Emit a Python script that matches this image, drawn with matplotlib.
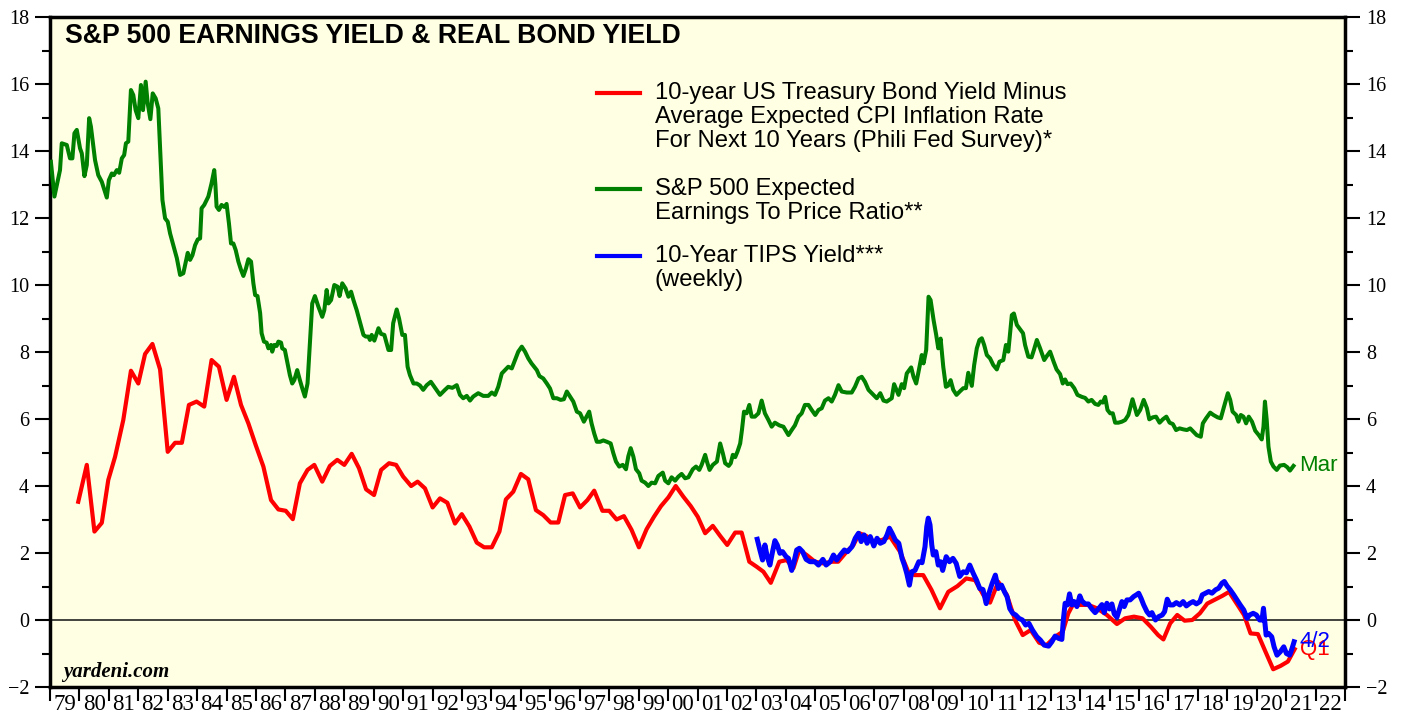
import matplotlib
matplotlib.use("Agg")
import matplotlib.pyplot as plt
from matplotlib.lines import Line2D

# S&P 500 expected earnings-to-price ratio (monthly), (year, value)
green_pts = [
    (1979.03, 13.68), (1979.15, 12.64), (1979.34, 13.43), (1979.40, 14.23), (1979.57, 14.18),
    (1979.68, 13.78), (1979.76, 13.78), (1979.83, 14.53), (1979.91, 14.63), (1980.02, 14.08),
    (1980.08, 13.93), (1980.17, 13.25), (1980.25, 13.58), (1980.33, 14.98), (1980.39, 14.73),
    (1980.53, 13.73), (1980.64, 13.28), (1980.76, 13.08), (1980.93, 12.61), (1981.00, 13.13),
    (1981.10, 13.33), (1981.17, 13.28), (1981.27, 13.43), (1981.35, 13.35), (1981.44, 13.78),
    (1981.52, 13.88), (1981.58, 14.23), (1981.66, 14.28), (1981.75, 15.82), (1981.83, 15.67),
    (1981.91, 15.22), (1982.00, 14.98), (1982.09, 15.97), (1982.16, 15.22), (1982.25, 16.07),
    (1982.32, 15.42), (1982.41, 14.95), (1982.49, 15.72), (1982.59, 15.57), (1982.68, 15.27),
    (1982.74, 14.13), (1982.82, 12.54), (1982.91, 11.99), (1983.00, 11.89), (1983.08, 11.54),
    (1983.19, 11.19), (1983.31, 10.80), (1983.42, 10.30), (1983.53, 10.35), (1983.58, 10.55),
    (1983.68, 10.96), (1983.76, 10.75), (1983.84, 10.89), (1983.93, 11.19), (1984.02, 11.36),
    (1984.10, 11.39), (1984.15, 12.29), (1984.24, 12.39), (1984.38, 12.64), (1984.49, 13.04),
    (1984.58, 13.43), (1984.62, 12.99), (1984.66, 12.34), (1984.74, 12.24), (1984.83, 12.39),
    (1984.92, 12.33), (1985.00, 12.42), (1985.08, 11.84), (1985.15, 11.24), (1985.23, 11.24),
    (1985.31, 11.04), (1985.40, 10.70), (1985.49, 10.45), (1985.57, 10.27), (1985.66, 10.50),
    (1985.74, 10.77), (1985.83, 10.70), (1985.91, 10.05), (1985.97, 9.70), (1986.05, 9.67),
    (1986.14, 9.16), (1986.19, 8.56), (1986.27, 8.31), (1986.36, 8.28), (1986.42, 8.11),
    (1986.51, 8.21), (1986.55, 8.01), (1986.62, 8.21), (1986.70, 8.18), (1986.76, 8.31),
    (1986.85, 8.28), (1986.89, 8.11), (1986.98, 8.06), (1987.07, 7.66), (1987.15, 7.31),
    (1987.23, 7.06), (1987.30, 7.16), (1987.40, 7.46), (1987.49, 7.16), (1987.57, 6.92),
    (1987.66, 6.67), (1987.75, 7.06), (1987.83, 8.26), (1987.91, 9.45), (1988.00, 9.67),
    (1988.12, 9.35), (1988.25, 9.05), (1988.32, 9.25), (1988.40, 9.85), (1988.46, 9.45),
    (1988.55, 9.55), (1988.66, 10.00), (1988.77, 9.95), (1988.84, 9.67), (1988.93, 10.05),
    (1989.04, 9.90), (1989.14, 9.65), (1989.23, 9.80), (1989.31, 9.55), (1989.42, 9.25),
    (1989.53, 8.90), (1989.65, 8.51), (1989.73, 8.46), (1989.82, 8.46), (1989.87, 8.36),
    (1989.93, 8.51), (1990.02, 8.34), (1990.16, 8.71), (1990.25, 8.54), (1990.36, 8.51),
    (1990.50, 8.06), (1990.59, 8.06), (1990.66, 8.86), (1990.78, 9.27), (1990.86, 9.00),
    (1990.97, 8.51), (1991.06, 8.51), (1991.15, 7.56), (1991.23, 7.31), (1991.35, 7.06),
    (1991.46, 7.06), (1991.57, 7.00), (1991.68, 6.87), (1991.80, 7.01), (1991.94, 7.11),
    (1992.02, 7.01), (1992.25, 6.72), (1992.42, 6.87), (1992.53, 6.96), (1992.67, 6.93),
    (1992.82, 7.01), (1992.93, 6.72), (1993.04, 6.62), (1993.16, 6.69), (1993.27, 6.55),
    (1993.38, 6.67), (1993.55, 6.77), (1993.72, 6.69), (1993.89, 6.69), (1994.01, 6.79),
    (1994.12, 6.72), (1994.23, 6.96), (1994.35, 7.36), (1994.46, 7.46), (1994.57, 7.56),
    (1994.69, 7.51), (1994.80, 7.76), (1994.91, 8.01), (1995.03, 8.16), (1995.14, 8.01),
    (1995.25, 7.81), (1995.36, 7.66), (1995.54, 7.46), (1995.63, 7.28), (1995.76, 7.21),
    (1995.88, 7.06), (1995.99, 6.91), (1996.10, 6.62), (1996.22, 6.62), (1996.35, 6.57),
    (1996.46, 6.59), (1996.56, 6.82), (1996.67, 6.67), (1996.78, 6.52), (1996.90, 6.22),
    (1997.01, 6.17), (1997.14, 5.92), (1997.23, 6.07), (1997.32, 6.22), (1997.40, 5.87),
    (1997.49, 5.57), (1997.58, 5.32), (1997.69, 5.32), (1997.80, 5.36), (1997.92, 5.32),
    (1998.05, 5.27), (1998.14, 4.98), (1998.23, 4.73), (1998.34, 4.58), (1998.46, 4.63),
    (1998.57, 4.50), (1998.65, 4.89), (1998.73, 5.13), (1998.82, 4.88), (1998.91, 4.50),
    (1999.02, 4.38), (1999.10, 4.16), (1999.22, 4.10), (1999.33, 4.00), (1999.44, 4.10),
    (1999.56, 4.08), (1999.67, 4.30), (1999.82, 4.40), (1999.90, 4.16), (2000.01, 4.08),
    (2000.12, 4.26), (2000.24, 4.16), (2000.35, 4.28), (2000.46, 4.36), (2000.58, 4.23),
    (2000.69, 4.26), (2000.84, 4.50), (2000.95, 4.58), (2001.06, 4.48), (2001.14, 4.63),
    (2001.26, 4.93), (2001.32, 4.73), (2001.41, 4.48), (2001.52, 4.63), (2001.66, 4.73),
    (2001.77, 5.27), (2001.86, 4.98), (2001.94, 4.68), (2002.06, 4.60), (2002.13, 4.68),
    (2002.20, 4.93), (2002.28, 4.86), (2002.36, 5.03), (2002.45, 5.27), (2002.51, 5.67),
    (2002.58, 6.22), (2002.67, 6.17), (2002.76, 6.42), (2002.84, 6.07), (2002.95, 6.07),
    (2003.07, 6.17), (2003.18, 6.55), (2003.29, 6.17), (2003.41, 5.97), (2003.52, 5.77),
    (2003.63, 5.89), (2003.78, 5.81), (2003.92, 5.77), (2004.09, 5.52), (2004.20, 5.67),
    (2004.31, 5.81), (2004.43, 6.07), (2004.54, 6.17), (2004.65, 6.42), (2004.77, 6.42),
    (2004.88, 6.27), (2005.00, 6.12), (2005.11, 6.27), (2005.22, 6.32), (2005.33, 6.55),
    (2005.45, 6.62), (2005.56, 6.52), (2005.67, 6.72), (2005.79, 7.01), (2005.90, 6.82),
    (2006.07, 6.79), (2006.24, 6.79), (2006.35, 6.96), (2006.47, 7.21), (2006.58, 7.26),
    (2006.69, 7.11), (2006.81, 6.87), (2006.98, 6.72), (2007.09, 6.62), (2007.21, 6.77),
    (2007.32, 6.55), (2007.43, 6.52), (2007.60, 6.62), (2007.68, 7.04), (2007.83, 6.72),
    (2007.94, 7.04), (2008.02, 6.92), (2008.11, 7.36), (2008.26, 7.54), (2008.34, 7.26),
    (2008.43, 7.06), (2008.51, 7.41), (2008.62, 7.91), (2008.68, 7.66), (2008.77, 8.06),
    (2008.85, 9.65), (2008.92, 9.55), (2009.02, 8.96), (2009.11, 8.51), (2009.18, 8.11),
    (2009.26, 8.40), (2009.35, 7.56), (2009.44, 6.96), (2009.52, 7.00), (2009.60, 7.16),
    (2009.69, 6.87), (2009.80, 6.72), (2009.91, 6.82), (2010.03, 6.92), (2010.12, 6.92),
    (2010.20, 7.38), (2010.32, 6.99), (2010.40, 7.61), (2010.49, 8.11), (2010.58, 8.36),
    (2010.66, 8.41), (2010.74, 8.21), (2010.83, 7.91), (2010.94, 7.81), (2011.05, 7.61),
    (2011.17, 7.48), (2011.26, 7.71), (2011.39, 7.76), (2011.48, 8.21), (2011.56, 8.01),
    (2011.68, 9.10), (2011.75, 9.15), (2011.85, 8.81), (2011.97, 8.67), (2012.06, 8.56),
    (2012.13, 8.21), (2012.24, 7.86), (2012.35, 7.84), (2012.43, 8.06), (2012.53, 8.36),
    (2012.64, 8.11), (2012.78, 7.76), (2012.87, 7.88), (2012.98, 8.01), (2013.10, 7.71),
    (2013.20, 7.48), (2013.32, 7.34), (2013.41, 7.06), (2013.49, 7.18), (2013.57, 7.04),
    (2013.68, 7.06), (2013.80, 6.92), (2013.91, 6.72), (2014.06, 6.66), (2014.17, 6.63),
    (2014.28, 6.52), (2014.39, 6.57), (2014.51, 6.45), (2014.62, 6.42), (2014.70, 6.52),
    (2014.77, 6.49), (2014.85, 6.66), (2014.93, 6.27), (2015.02, 6.17), (2015.11, 6.17),
    (2015.19, 5.89), (2015.30, 5.89), (2015.42, 5.92), (2015.53, 5.97), (2015.64, 6.12),
    (2015.78, 6.59), (2015.93, 6.12), (2016.04, 6.27), (2016.16, 6.57), (2016.27, 6.32),
    (2016.35, 5.99), (2016.47, 6.05), (2016.58, 6.07), (2016.70, 5.89), (2016.81, 5.99),
    (2016.93, 6.07), (2017.04, 5.89), (2017.15, 5.85), (2017.26, 5.67), (2017.38, 5.72),
    (2017.51, 5.69), (2017.63, 5.67), (2017.74, 5.72), (2017.85, 5.62), (2017.96, 5.52),
    (2018.10, 5.47), (2018.17, 5.87), (2018.28, 6.02), (2018.42, 6.19), (2018.53, 6.12),
    (2018.67, 6.05), (2018.78, 6.02), (2018.89, 6.37), (2019.02, 6.77), (2019.10, 6.57),
    (2019.18, 6.22), (2019.30, 6.12), (2019.38, 5.92), (2019.46, 6.12), (2019.55, 6.07),
    (2019.64, 5.87), (2019.73, 6.07), (2019.84, 5.92), (2019.95, 5.65), (2020.07, 5.52),
    (2020.17, 5.39), (2020.23, 5.77), (2020.28, 6.52), (2020.34, 5.97), (2020.40, 5.17),
    (2020.48, 4.73), (2020.57, 4.58), (2020.68, 4.48), (2020.79, 4.61), (2020.93, 4.63),
    (2021.04, 4.56), (2021.13, 4.46), (2021.25, 4.60),
]

# 10-yr Treasury minus expected CPI inflation (quarterly)
red_pts = [
    (1979.96, 3.53), (1980.25, 4.63), (1980.51, 2.64), (1980.76, 2.90), (1980.98, 4.18),
    (1981.21, 4.87), (1981.49, 5.97), (1981.75, 7.44), (1982.00, 7.06), (1982.23, 7.94),
    (1982.48, 8.24), (1982.74, 7.48), (1983.00, 5.02), (1983.25, 5.29), (1983.48, 5.29),
    (1983.72, 6.42), (1983.98, 6.52), (1984.24, 6.37), (1984.49, 7.76), (1984.74, 7.56),
    (1985.00, 6.57), (1985.25, 7.26), (1985.49, 6.42), (1985.74, 5.87), (1985.99, 5.22),
    (1986.25, 4.58), (1986.51, 3.58), (1986.76, 3.30), (1987.01, 3.26), (1987.25, 3.01),
    (1987.49, 4.08), (1987.75, 4.48), (1987.98, 4.63), (1988.25, 4.13), (1988.51, 4.60),
    (1988.76, 4.78), (1989.00, 4.63), (1989.25, 4.96), (1989.50, 4.53), (1989.74, 3.90),
    (1990.01, 3.73), (1990.25, 4.48), (1990.52, 4.68), (1990.76, 4.63), (1991.00, 4.28),
    (1991.27, 4.00), (1991.49, 4.13), (1991.74, 3.93), (1992.00, 3.36), (1992.25, 3.63),
    (1992.50, 3.50), (1992.76, 2.88), (1992.99, 3.16), (1993.25, 2.79), (1993.50, 2.31),
    (1993.75, 2.17), (1994.01, 2.17), (1994.27, 2.64), (1994.49, 3.60), (1994.74, 3.83),
    (1995.00, 4.36), (1995.25, 4.20), (1995.51, 3.28), (1995.76, 3.13), (1996.01, 2.91),
    (1996.27, 2.91), (1996.50, 3.73), (1996.76, 3.78), (1997.01, 3.36), (1997.26, 3.58),
    (1997.49, 3.86), (1997.77, 3.26), (1998.00, 3.26), (1998.25, 3.00), (1998.50, 3.10),
    (1998.76, 2.69), (1999.01, 2.17), (1999.27, 2.71), (1999.52, 3.08), (1999.76, 3.40),
    (2000.01, 3.66), (2000.26, 4.00), (2000.52, 3.68), (2000.77, 3.40), (2001.01, 3.08),
    (2001.26, 2.59), (2001.52, 2.81), (2001.77, 2.51), (2002.01, 2.24), (2002.28, 2.61),
    (2002.50, 2.61), (2002.76, 1.74), (2003.01, 1.59), (2003.24, 1.44), (2003.49, 1.11),
    (2003.78, 1.74), (2004.03, 1.79), (2004.26, 1.55), (2004.46, 2.09), (2004.71, 1.94),
    (2004.99, 1.74), (2005.27, 1.69), (2005.56, 1.74), (2005.78, 1.74), (2006.07, 2.04),
    (2006.30, 2.24), (2006.50, 2.59), (2006.73, 2.51), (2006.99, 2.34), (2007.27, 2.39),
    (2007.54, 2.49), (2007.88, 2.04), (2008.16, 1.44), (2008.38, 1.34), (2008.67, 1.34),
    (2008.95, 0.90), (2009.24, 0.35), (2009.52, 0.84), (2009.83, 1.01), (2010.13, 1.24),
    (2010.43, 1.19), (2010.71, 0.75), (2010.94, 0.52), (2011.22, 1.14), (2011.51, 0.75),
    (2011.79, 0.00), (2012.05, -0.45), (2012.32, -0.30), (2012.61, -0.68), (2012.86, -0.75),
    (2013.15, -0.50), (2013.41, -0.35), (2013.60, 0.20), (2013.75, 0.45), (2014.00, 0.45),
    (2014.28, 0.45), (2014.57, 0.35), (2014.91, 0.15), (2015.25, -0.12), (2015.53, 0.05),
    (2015.83, 0.10), (2016.12, 0.05), (2016.40, -0.20), (2016.65, -0.45), (2016.83, -0.58),
    (2017.06, -0.10), (2017.30, 0.15), (2017.55, -0.02), (2017.81, 0.00), (2018.07, 0.20),
    (2018.32, 0.49), (2018.61, 0.62), (2018.83, 0.72), (2019.06, 0.84), (2019.32, 0.49),
    (2019.57, 0.15), (2019.79, -0.40), (2020.04, -0.42), (2020.30, -0.95), (2020.56, -1.47),
    (2020.81, -1.37), (2021.06, -1.24), (2021.29, -0.87),
]

# 10-year TIPS yield (weekly, sampled)
blue_pts = [
    (2003.03, 2.41), (2003.12, 2.09), (2003.21, 1.79), (2003.29, 2.24), (2003.37, 1.89),
    (2003.46, 1.64), (2003.55, 2.04), (2003.63, 2.37), (2003.71, 2.24), (2003.80, 1.99),
    (2003.89, 2.04), (2004.01, 1.89), (2004.09, 1.84), (2004.20, 1.48), (2004.28, 1.74),
    (2004.37, 2.09), (2004.46, 2.14), (2004.57, 2.04), (2004.69, 1.81), (2004.82, 1.74),
    (2004.99, 1.74), (2005.11, 1.64), (2005.26, 1.81), (2005.37, 1.64), (2005.51, 1.74),
    (2005.62, 1.94), (2005.73, 1.79), (2005.85, 1.94), (2005.99, 2.09), (2006.10, 2.04),
    (2006.25, 2.19), (2006.36, 2.44), (2006.47, 2.59), (2006.56, 2.34), (2006.66, 2.54),
    (2006.76, 2.29), (2006.87, 2.49), (2006.99, 2.21), (2007.10, 2.44), (2007.21, 2.29),
    (2007.33, 2.34), (2007.44, 2.54), (2007.52, 2.74), (2007.61, 2.59), (2007.72, 2.39),
    (2007.84, 2.29), (2007.95, 1.84), (2008.03, 1.64), (2008.11, 1.39), (2008.20, 1.04),
    (2008.28, 1.44), (2008.39, 1.48), (2008.52, 1.74), (2008.63, 1.71), (2008.73, 2.19),
    (2008.79, 2.79), (2008.84, 3.04), (2008.90, 2.84), (2008.96, 2.24), (2009.01, 1.94),
    (2009.10, 2.04), (2009.18, 1.64), (2009.26, 1.74), (2009.33, 1.48), (2009.45, 1.89),
    (2009.56, 1.74), (2009.68, 1.84), (2009.79, 1.69), (2009.91, 1.30), (2010.03, 1.44),
    (2010.14, 1.41), (2010.25, 1.64), (2010.37, 1.39), (2010.48, 1.19), (2010.59, 0.94),
    (2010.70, 0.91), (2010.81, 0.49), (2010.90, 0.79), (2011.01, 1.09), (2011.12, 1.34),
    (2011.22, 0.94), (2011.33, 1.04), (2011.43, 0.84), (2011.52, 0.69), (2011.61, 0.34),
    (2011.71, 0.20), (2011.81, 0.15), (2011.92, 0.05), (2012.04, 0.00), (2012.15, -0.15),
    (2012.26, -0.10), (2012.38, -0.30), (2012.53, -0.50), (2012.65, -0.60), (2012.78, -0.75),
    (2012.93, -0.78), (2013.04, -0.65), (2013.15, -0.48), (2013.27, -0.55), (2013.38, -0.58),
    (2013.43, 0.00), (2013.49, 0.50), (2013.57, 0.45), (2013.64, 0.78), (2013.72, 0.45),
    (2013.80, 0.55), (2013.89, 0.40), (2013.99, 0.72), (2014.06, 0.57), (2014.17, 0.48),
    (2014.28, 0.48), (2014.40, 0.33), (2014.51, 0.22), (2014.62, 0.33), (2014.74, 0.46),
    (2014.82, 0.22), (2014.91, 0.50), (2015.00, 0.33), (2015.08, 0.48), (2015.16, 0.18),
    (2015.25, 0.08), (2015.34, 0.33), (2015.42, 0.55), (2015.50, 0.40), (2015.59, 0.60),
    (2015.70, 0.60), (2015.82, 0.70), (2015.91, 0.75), (2015.99, 0.80), (2016.07, 0.65),
    (2016.16, 0.45), (2016.27, 0.25), (2016.36, 0.15), (2016.44, 0.22), (2016.56, 0.00),
    (2016.67, 0.10), (2016.79, 0.15), (2016.87, 0.25), (2016.96, 0.62), (2017.05, 0.45),
    (2017.16, 0.45), (2017.27, 0.52), (2017.39, 0.45), (2017.50, 0.55), (2017.61, 0.42),
    (2017.73, 0.50), (2017.84, 0.55), (2017.95, 0.48), (2018.07, 0.55), (2018.15, 0.75),
    (2018.26, 0.80), (2018.37, 0.85), (2018.48, 0.80), (2018.60, 0.90), (2018.71, 0.95),
    (2018.82, 1.10), (2018.90, 1.15), (2018.99, 1.02), (2019.10, 0.90), (2019.22, 0.75),
    (2019.33, 0.60), (2019.44, 0.45), (2019.56, 0.30), (2019.67, 0.05), (2019.76, 0.15),
    (2019.88, 0.20), (2019.99, 0.15), (2020.10, 0.00), (2020.18, 0.00), (2020.23, 0.35),
    (2020.27, 0.00), (2020.32, -0.45), (2020.40, -0.40), (2020.51, -0.50), (2020.59, -0.80),
    (2020.69, -1.05), (2020.80, -0.95), (2020.92, -0.80), (2021.01, -1.00), (2021.12, -1.05),
    (2021.20, -0.85), (2021.27, -0.65),
]

years = list(range(1979, 2024))
year_labels = ["%02d" % (y % 100) for y in range(1979, 2023)]

GREEN = "#008000"
RED = "#FF0000"
BLUE = "#0000FF"
SANS = "Liberation Sans"
SERIF = "Liberation Serif"

W, H = 1405, 717
fig = plt.figure(figsize=(W / 100, H / 100), dpi=100)
ax = fig.add_axes([50 / W, 1 - 687 / H, 1295 / W, 670 / H])
ax.set_facecolor("#FFFFE3")

gx, gy = zip(*green_pts)
rx, ry = zip(*red_pts)
bx, by = zip(*blue_pts)
ax.plot(gx, gy, color=GREEN, lw=2.9, solid_joinstyle="round", zorder=3)
ax.plot(rx, ry, color=RED, lw=3.0, solid_joinstyle="round", zorder=4)
ax.plot(bx, by, color=BLUE, lw=3.6, solid_joinstyle="round", zorder=5)
ax.axhline(0, color="#222222", lw=1.2, zorder=2)

ax.set_xlim(1979, 2023)
ax.set_ylim(-2, 18)

# y axis: both sides
ax.set_yticks(range(-2, 19, 2))
ax.set_yticks(range(-1, 18, 2), minor=True)
ax.tick_params(axis="y", which="major", direction="out", length=11, width=1.5,
               left=True, right=True, labelleft=True, labelright=True, pad=4,
               labelsize=14.5)
ax.tick_params(axis="y", which="minor", direction="out", length=6, width=1.5,
               left=True, right=True)
for lab in ax.get_yticklabels():
    lab.set_fontfamily(SERIF)

# x axis: tick at each year, label centred in between
ax.set_xticks(years)
ax.set_xticklabels([])
ax.set_xticks([y + 0.5 for y in range(1979, 2023)], minor=True)
ax.set_xticklabels(year_labels, minor=True, fontfamily=SERIF, fontsize=16.5)
ax.tick_params(axis="x", which="major", direction="out", length=10, width=1.5)
ax.tick_params(axis="x", which="minor", length=0, pad=5)

for s in ax.spines.values():
    s.set_linewidth(2.5)

# title and watermark
ax.text(15 / 1295, 1 - 19 / 670, "S&P 500 EARNINGS YIELD & REAL BOND YIELD",
        transform=ax.transAxes, fontfamily=SANS, fontweight="bold", fontsize=19.2,
        va="center", ha="left")
ax.text(13 / 1295, 15 / 670, "yardeni.com", transform=ax.transAxes,
        fontfamily=SERIF, fontweight="bold", fontstyle="italic", fontsize=15,
        va="center", ha="left")

# legend drawn by hand so the key sits on the first line of each entry
legend = [
    (RED, ["10-year US Treasury Bond Yield Minus",
           "Average Expected CPI Inflation Rate",
           "For Next 10 Years (Phili Fed Survey)*"], 93),
    (GREEN, ["S&P 500 Expected", "Earnings To Price Ratio**"], 189),
    (BLUE, ["10-Year TIPS Yield***", "(weekly)"], 256),
]
for color, lines, ytop in legend:
    fig.add_artist(Line2D([597 / W, 640 / W], [1 - ytop / H, 1 - ytop / H],
                          color=color, lw=3))
    for i, line in enumerate(lines):
        fig.text(655 / W, 1 - (ytop + 24 * i) / H, line, fontfamily=SANS,
                 fontsize=17.2, va="center", ha="left")

# end labels
ax.annotate("Mar", xy=(gx[-1], gy[-1]), xytext=(4, 0), textcoords="offset points",
            color=GREEN, fontfamily=SANS, fontsize=16, va="center")
ax.annotate("Q1", xy=(rx[-1], ry[-1]), xytext=(4, 0), textcoords="offset points",
            color=RED, fontfamily=SANS, fontsize=16, va="center", zorder=6)
ax.annotate("4/2", xy=(bx[-1], by[-1]), xytext=(4, 0), textcoords="offset points",
            color=BLUE, fontfamily=SANS, fontsize=16, va="center", zorder=7)

fig.savefig("out.png", dpi=100)
